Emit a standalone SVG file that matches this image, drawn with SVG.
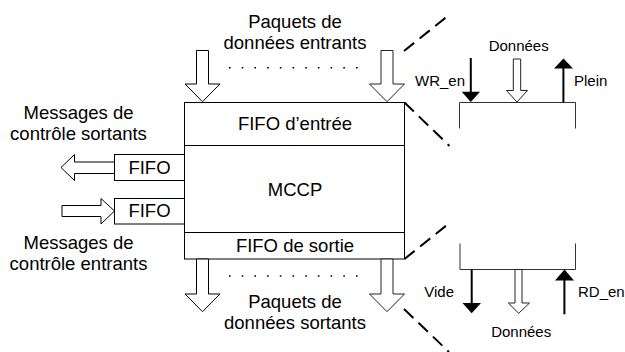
<svg xmlns="http://www.w3.org/2000/svg" width="625" height="352" viewBox="0 0 625 352">
<style>
.box{fill:#fff;stroke:#000;stroke-width:1}
.t{font-family:"Liberation Sans",Arial,sans-serif;font-size:18.5px;fill:#000;text-anchor:middle}
.s{font-family:"Liberation Sans",Arial,sans-serif;font-size:15px;fill:#000}
.hollow{fill:#fff;stroke:#000;stroke-width:1}
.gray{fill:#fff;stroke:#222;stroke-width:1}
.br{fill:none;stroke:#333;stroke-width:1}
.dash{fill:none;stroke:#000;stroke-width:2;stroke-dasharray:13 7}
.dots{fill:none;stroke:#000;stroke-width:1.6;stroke-dasharray:1.6 11.1}
.sig{stroke:#000;stroke-width:2;fill:none}
.head{fill:#000;stroke:none}
</style>
<rect width="625" height="352" fill="#fff"/>

<g id="labels">
  <text class="t" x="295" y="28.3">Paquets de</text>
  <text class="t" x="295" y="49.3">données entrants</text>
  <text class="t" x="78.5" y="119.3">Messages de</text>
  <text class="t" x="78.5" y="140">contrôle sortants</text>
  <text class="t" x="78.5" y="249">Messages de</text>
  <text class="t" x="78.5" y="270">contrôle entrants</text>
  <text class="t" x="295" y="307.7">Paquets de</text>
  <text class="t" x="295" y="329.3">données sortants</text>
</g>

<g id="mccp-block">
  <rect class="box" x="184.5" y="102.5" width="220" height="156.5"/>
  <line x1="184.5" y1="145.5" x2="404.5" y2="145.5" stroke="#000"/>
  <line x1="184.5" y1="232.5" x2="404.5" y2="232.5" stroke="#000"/>
</g>
<g id="fifo-entree">
  <text class="t" x="295" y="130">FIFO d’entrée</text>
</g>
<g id="mccp">
  <text class="t" x="295" y="196">MCCP</text>
</g>
<g id="fifo-sortie">
  <text class="t" x="295" y="252">FIFO de sortie</text>
</g>
<g id="fifo-ctrl-out">
  <rect class="box" x="114.5" y="154.5" width="70" height="26"/>
  <text class="t" x="149.5" y="173.5">FIFO</text>
</g>
<g id="fifo-ctrl-in">
  <rect class="box" x="114.5" y="198.5" width="70" height="25.5"/>
  <text class="t" x="149.5" y="217">FIFO</text>
</g>

<g id="detail-in">
  <path class="br" d="M459.5,128.5 V102.5 H575.5 V128.5"/>
  <text class="s" x="518.7" y="50.7" text-anchor="middle">Données</text>
  <text class="s" x="465" y="86" text-anchor="end">WR_en</text>
  <text class="s" x="574" y="86">Plein</text>
</g>
<g id="detail-out">
  <path class="br" d="M460,243.5 V269.5 H575.5 V243.5"/>
  <text class="s" x="454" y="296.7" text-anchor="end">Vide</text>
  <text class="s" x="578" y="296.7">RD_en</text>
  <text class="s" x="521.2" y="337.3" text-anchor="middle">Données</text>
</g>

<g id="connectors">
  <polygon class="hollow" points="196.5,50.5 208.5,50.5 208.5,84 220,84 202.5,101.7 185,84 196.5,84"/>
  <polygon class="gray" points="381,50.5 393,50.5 393,84 404.5,84 387,101.7 369.5,84 381,84"/>
  <polygon class="hollow" points="196.5,259 208.5,259 208.5,294 220,294 202.5,311.7 185,294 196.5,294"/>
  <polygon class="gray" points="381,259 393,259 393,294 404.5,294 387,311.7 369.5,294 381,294"/>
  <polygon class="hollow" points="114.5,162 74.5,162 74.5,154.5 61,167.5 74.5,180.5 74.5,173.5 114.5,173.5"/>
  <polygon class="hollow" points="62,205.5 101,205.5 101,198.5 114.5,211 101,224 101,216.5 62,216.5"/>
  <line class="dots" x1="229" y1="67.7" x2="358" y2="67.7"/>
  <line class="dots" x1="229" y1="276" x2="358" y2="276"/>
  <line class="dash" x1="404" y1="51" x2="449" y2="15"/>
  <line class="dash" x1="404.5" y1="102.5" x2="449.5" y2="146"/>
  <line class="dash" x1="404.5" y1="259" x2="449.5" y2="223"/>
  <line class="dash" x1="404" y1="309" x2="449" y2="352"/>
  <line class="sig" x1="470.8" y1="58" x2="470.8" y2="92"/>
  <polygon class="head" points="461.7,91.7 480,91.7 470.8,102"/>
  <polygon class="gray" points="513.3,59 520.7,59 520.7,90.5 527.5,90.5 517,102 506.5,90.5 513.3,90.5"/>
  <line class="sig" x1="563.4" y1="102.5" x2="563.4" y2="68"/>
  <polygon class="head" points="554,68.5 573,68.5 563.5,58.5"/>
  <line class="sig" x1="471.7" y1="269.5" x2="471.7" y2="303.5"/>
  <polygon class="head" points="462.5,303 481,303 471.7,313.3"/>
  <polygon class="gray" points="515,269.5 522,269.5 522,303 529.5,303 518.7,313.3 508.3,303 515,303"/>
  <line class="sig" x1="564.4" y1="314.3" x2="564.4" y2="280"/>
  <polygon class="head" points="555,280.5 574,280.5 564.5,269.5"/>
</g>
</svg>
